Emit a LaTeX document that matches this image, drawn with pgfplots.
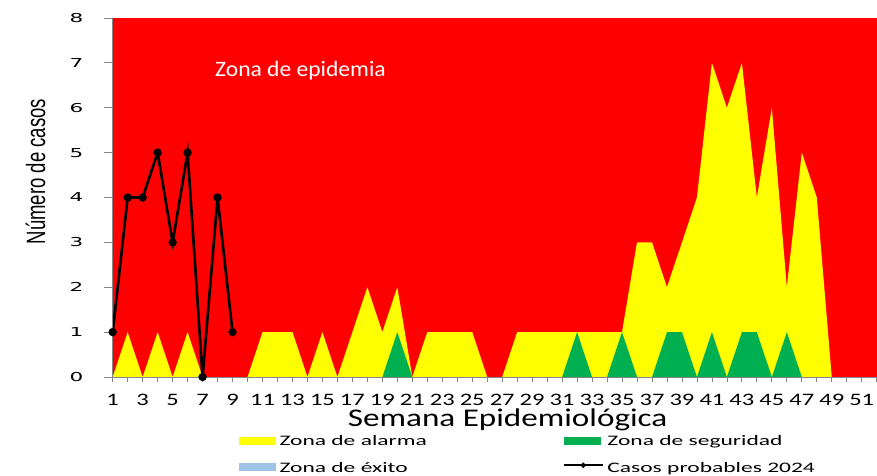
\documentclass[border=0pt]{standalone}
\usepackage{fontspec}
\setmainfont{Carlito}
\newfontfamily\xtf[FakeStretch=1.4]{Carlito}
\newfontfamily\ytf[FakeStretch=1.75]{DejaVu Sans}
\newfontfamily\xlf[FakeStretch=1.3]{Carlito}
\newfontfamily\ylf[FakeStretch=0.70]{Liberation Sans}
\newfontfamily\lgf[FakeStretch=1.62]{Carlito}
\newfontfamily\epf[FakeStretch=1.07]{Carlito}
\usepackage{pgfplots}
\usepackage{pgfplotstable}
\pgfplotsset{compat=1.18}
\definecolor{rojo}{HTML}{FF0000}
\definecolor{amarillo}{HTML}{FFFF00}
\definecolor{verde}{HTML}{00B050}
\definecolor{exito}{HTML}{9DC3E6}
\definecolor{axgray}{HTML}{868686}
\pgfplotsset{
  areaimg/.style={legend image code/.code={\fill[##1] (0pt,1.35pt) rectangle (37pt,9.05pt);}},
  lineimg/.style={legend image code/.code={\draw[mark repeat=2,mark phase=2,##1,line width=1.5pt,mark size=1.8pt] plot coordinates {(0pt,7.3pt) (19.35pt,7.3pt) (38.7pt,7.3pt)};}},
}
\pgfplotstableread{
w v
1 8
52 8
}\epidemia
\pgfplotstableread{
w v
1 0
2 1
3 0
4 1
5 0
6 1
7 0
8 0
9 0
10 0
11 1
12 1
13 1
14 0
15 1
16 0
17 1
18 2
19 1
20 2
21 0
22 1
23 1
24 1
25 1
26 0
27 0
28 1
29 1
30 1
31 1
32 1
33 1
34 1
35 1
36 3
37 3
38 2
39 3
40 4
41 7
42 6
43 7
44 4
45 6
46 2
47 5
48 4
49 0
50 0
51 0
52 0
}\alarma
\pgfplotstableread{
w v
1 0
19 0
20 1
21 0
31 0
32 1
33 0
34 0
35 1
36 0
37 0
38 1
39 1
40 0
41 1
42 0
43 1
44 1
45 0
46 1
47 0
52 0
}\seguridad
\pgfplotstableread{
w v
1 1
2 4
3 4
4 5
5 3
6 5
7 0
8 4
9 1
}\casos
\begin{document}
\begin{tikzpicture}
\path[use as bounding box] (-112.7pt,-98pt) rectangle (764.3pt,377pt);
\begin{axis}[
  at={(0pt,0pt)}, anchor=south west,
  scale only axis, width=764pt, height=359pt,
  xmin=1, xmax=52, ymin=0, ymax=8,
  clip=false,
  axis on top,
  axis x line*=bottom, axis y line*=left,
  axis line style={draw=axgray, line width=0.8pt},
  tick style={draw=axgray, line width=0.8pt},
  tick align=outside,
  xtick={1,...,52},
  xticklabels={1,,3,,5,,7,,9,,11,,13,,15,,17,,19,,21,,23,,25,,27,,29,,31,,33,,35,,37,,39,,41,,43,,45,,47,,49,,51,},
  ytick={0,...,8},
  yticklabels={0,1,2,3,4,5,6,7,8},
  xtick style={/pgfplots/major tick length=5pt},
  ytick style={/pgfplots/major tick length=9pt},
  xticklabel style={font=\xtf\fontsize{17.5}{19}\selectfont, anchor=base, inner sep=0pt, yshift=-24pt},
  yticklabel style={font=\ytf\fontsize{12.3}{14}\selectfont, anchor=east, inner sep=0pt, xshift=-25pt},
  xlabel={Semana Epidemiológica},
  xlabel style={font=\xlf\fontsize{25.5}{27}\selectfont, at={(axis description cs:0.517,-0.1385)}, anchor=base, inner sep=0pt},
  ylabel={Número de casos},
  ylabel style={font=\ylf\fontsize{26.5}{28}\selectfont, at={(axis description cs:-0.0886,0.572)}, anchor=base, inner sep=0pt},
  legend columns=2,
  legend style={
    at={(axis description cs:0.1644,-0.1607)}, anchor=north west,
    draw=none, fill=none, inner sep=0pt,
    font=\lgf\fontsize{14.5}{16}\selectfont,
    cells={anchor=base west},
    nodes={inner sep=0pt, text height=11pt, text depth=4pt},
    row sep=11.6pt,
    /tikz/every odd column/.append style={column sep=4pt},
    /tikz/every even column/.append style={column sep=132.7pt},
  },
]
\addplot[fill=rojo, draw=none, forget plot] table[x=w,y=v] {\epidemia} \closedcycle;
\addplot[fill=amarillo, draw=none, areaimg] table[x=w,y=v] {\alarma} \closedcycle;
\addlegendentry{\makebox[151pt][l]{Zona de alarma}}
\addplot[fill=verde, draw=none, areaimg] table[x=w,y=v] {\seguridad} \closedcycle;
\addlegendentry{Zona de seguridad}
\addlegendimage{fill=exito, draw=none, areaimg}
\addlegendentry{\makebox[151pt][l]{Zona de éxito}}
\addplot[black, line width=2.6pt, mark=*, mark size=2.8pt, lineimg] table[x=w,y=v] {\casos};
\addlegendentry{Casos probables 2024}
\node[anchor=base west, inner sep=0pt, text=white, font=\epf\fontsize{22}{24}\selectfont] at (axis cs:7.83,6.69) {Zona de epidemia};
\end{axis}
\end{tikzpicture}
\end{document}
